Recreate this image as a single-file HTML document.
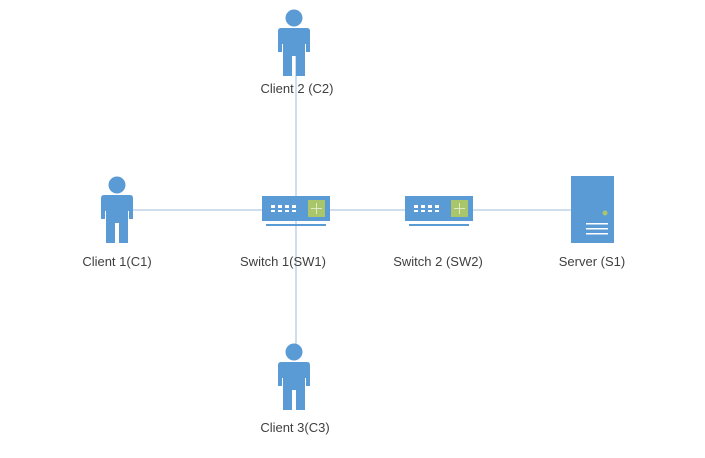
<!DOCTYPE html>
<html><head><style>
body{margin:0;background:#fff}
text{font-family:"Liberation Sans",sans-serif;font-size:13px;fill:#404040;text-anchor:middle}
</style></head><body>
<svg width="705" height="453" viewBox="0 0 705 453" xmlns="http://www.w3.org/2000/svg">
<g stroke="#b4cbe4" stroke-width="1.3">
<line x1="130" y1="210" x2="575" y2="210"/>
<line x1="296" y1="52" x2="296" y2="348"/>
</g>
<defs>
<g id="p" fill="#5b9bd5">
<circle cx="0" cy="0" r="8.5"/>
<path d="M-13,10 H13 Q16,10 16,13 V34 H12 V26 H11 V58 H2 V38 H-2 V58 H-11 V26 H-12 V34 H-16 V13 Q-16,10 -13,10 Z"/>
</g>
<g id="s">
<rect x="0" y="0" width="68" height="25" fill="#5b9bd5"/>
<rect x="4" y="28" width="60" height="2" fill="#5b9bd5"/>
<g fill="#fff"><rect x="9" y="9" width="4" height="3"/><rect x="16" y="9" width="4" height="3"/><rect x="23" y="9" width="4" height="3"/><rect x="30" y="9" width="4" height="3"/>
<rect x="9" y="14" width="4" height="2"/><rect x="16" y="14" width="4" height="2"/><rect x="23" y="14" width="4" height="2"/><rect x="30" y="14" width="4" height="2"/></g>
<rect x="46" y="4" width="17" height="17" fill="#a9c66b"/>
<path d="M54.5,7 V18 M49,12.5 H60" stroke="#dfe9c8" stroke-width="1"/>
</g>
</defs>
<use href="#p" x="294" y="18"/>
<use href="#p" x="117" y="185"/>
<use href="#p" x="294" y="352"/>
<use href="#s" x="262" y="196"/>
<use href="#s" x="405" y="196"/>
<rect x="571" y="176" width="43" height="67" fill="#5b9bd5"/>
<circle cx="605" cy="213" r="2.5" fill="#a9c66b"/>
<g fill="#fff"><rect x="586" y="223" width="22" height="1.5"/><rect x="586" y="228" width="22" height="1.5"/><rect x="586" y="233" width="22" height="1.5"/></g>
<text x="297" y="93">Client 2 (C2)</text>
<text x="117" y="266">Client 1(C1)</text>
<text x="283" y="266">Switch 1(SW1)</text>
<text x="438" y="266">Switch 2 (SW2)</text>
<text x="592" y="266">Server (S1)</text>
<text x="295" y="432">Client 3(C3)</text>
</svg>
</body></html>
